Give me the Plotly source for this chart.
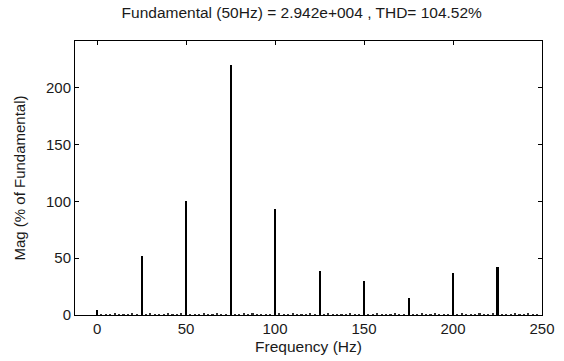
import plotly.graph_objects as go

# Harmonic spectrum (% of fundamental)
freqs = [0, 25, 50, 75, 100, 125, 150, 175, 200, 225]
mags = [4, 52, 100, 220, 93, 39, 30, 15, 37, 42.5]

# small inter-harmonic components visible along the baseline
noise_freqs = [2.5, 5, 7.5, 10, 12.5, 15, 17.5, 20, 22.5,
               27.5, 30, 32.5, 35, 37.5, 40, 42.5, 45, 47.5,
               52.5, 55, 57.5, 60, 62.5, 65, 67.5, 70, 72.5,
               77.5, 80, 82.5, 85, 87.5, 90, 92.5, 95, 97.5,
               102.5, 105, 107.5, 110, 112.5, 115, 117.5, 120, 122.5,
               127.5, 130, 132.5, 135, 137.5, 140, 142.5, 145, 147.5,
               152.5, 155, 157.5, 160, 162.5, 165, 167.5, 170, 172.5,
               177.5, 180, 182.5, 185, 187.5, 190, 192.5, 195, 197.5,
               202.5, 205, 207.5, 210, 212.5, 215, 217.5, 220, 222.5,
               227.5, 230, 232.5, 235, 237.5, 240, 242.5, 245, 247.5]
noise_mags = [0.8, 0.5, 0.7, 0.9, 0.5, 0.8, 0.6, 0.9, 0.5,
              0.7, 0.9, 0.5, 0.8, 0.6, 0.9, 0.5, 0.7, 0.9,
              0.6, 0.8, 0.5, 0.9, 0.7, 0.5, 0.9, 0.6, 0.8,
              0.7, 0.5, 0.9, 0.6, 0.9, 0.5, 0.8, 0.7, 0.5,
              0.9, 0.6, 0.7, 0.9, 0.5, 0.8, 0.5, 0.9, 0.7,
              0.6, 0.9, 0.5, 0.8, 0.7, 0.5, 0.9, 0.6, 0.8,
              0.7, 0.5, 0.9, 0.6, 0.8, 0.5, 0.9, 0.7, 0.5,
              0.8, 0.6, 0.9, 0.5, 0.7, 0.9, 0.5, 0.8, 0.6,
              0.7, 0.9, 0.5, 0.8, 0.6, 0.9, 0.5, 0.7, 0.9,
              0.6, 0.8, 0.5, 0.9, 0.7, 0.5, 0.9, 0.6, 0.8]

x_ticks = [0, 50, 100, 150, 200, 250]
y_ticks = [0, 50, 100, 150, 200]

title_text = "Fundamental (50Hz) = 2.942e+004 , THD= 104.52%"

fig = go.Figure()
fig.add_trace(go.Bar(x=noise_freqs, y=noise_mags, width=0.9,
                     marker=dict(color="#333333", line=dict(width=0)),
                     showlegend=False))
fig.add_trace(go.Bar(x=freqs, y=mags, width=1.15,
                     marker=dict(color="black", line=dict(width=0)),
                     showlegend=False))

font_family = "Liberation Sans, Arial, sans-serif"
fig.update_layout(
    width=564, height=361,
    margin=dict(l=75, r=22, t=41, b=46, autoexpand=False),
    paper_bgcolor="white", plot_bgcolor="white",
    font=dict(family=font_family, size=14.5, color="#1a1a1a"),
    title=dict(text=title_text, x=0.535, xanchor="center",
               y=0.965, yanchor="middle",
               font=dict(family=font_family, size=15.5, color="#1a1a1a")),
    bargap=0,
    xaxis=dict(range=[-12.4, 250], tickvals=x_ticks, showgrid=False,
               automargin=False,
               zeroline=False, showline=True, linecolor="black", linewidth=1,
               mirror="ticks", ticks="inside", ticklen=4, tickcolor="black",
               tickfont=dict(size=15),
               title=dict(text="Frequency (Hz)", standoff=5,
                          font=dict(size=15.5))),
    yaxis=dict(range=[0, 241], tickvals=y_ticks, showgrid=False,
               automargin=False,
               zeroline=False, showline=True, linecolor="black", linewidth=1,
               mirror="ticks", ticks="inside", ticklen=4, tickcolor="black",
               tickfont=dict(size=15),
               title=dict(text="Mag (% of Fundamental)", standoff=16,
                          font=dict(size=15))),
)

fig.write_html("out.html")
